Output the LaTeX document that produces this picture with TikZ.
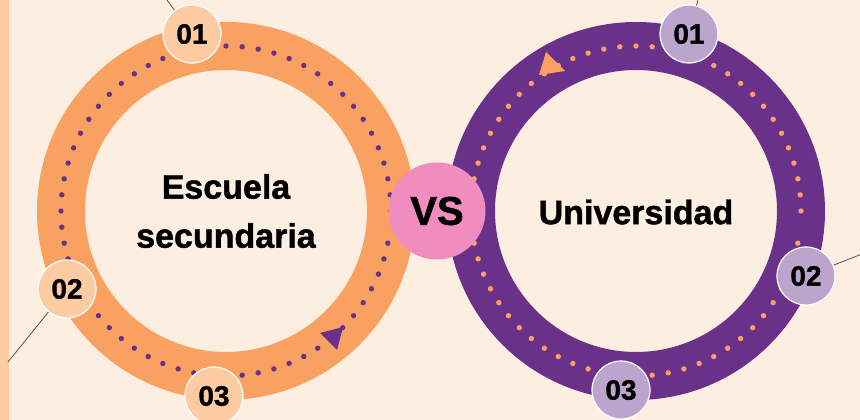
\documentclass[tikz,border=0pt]{standalone}
\usepackage{fontspec}
\setmainfont{Liberation Sans}
\newfontfamily\heavy{Liberation Sans}[BoldFeatures={FakeBold=1.3}]
\definecolor{bgc}{HTML}{FDEEE2}
\definecolor{peach}{HTML}{FDCBA1}
\definecolor{orng}{HTML}{F9A160}
\definecolor{purp}{HTML}{6A318A}
\definecolor{lav}{HTML}{BCA5CD}
\definecolor{pinkc}{HTML}{F18CBF}
\definecolor{linec}{HTML}{555555}
\begin{document}
\begin{tikzpicture}[x=1pt,y=-1pt,
  badge/.style={circle, draw=white, line width=1.2pt, minimum size=58pt, inner sep=0pt,
    font=\heavy\fontsize{28}{28}\selectfont\bfseries},
  obadge/.style={badge, fill=peach},
  pbadge/.style={badge, fill=lav},
  title/.style={align=center, font=\heavy\fontsize{34}{49}\selectfont\bfseries},
  leader/.style={draw=linec, line width=0.8pt}]
\useasboundingbox (0,0) rectangle (860,420);
\clip (0,0) rectangle (860,420);
\fill[bgc] (0,0) rectangle (860,420);
% left strip
\fill[peach] (0,0) rectangle (9,420);
% rings
\coordinate (lc) at (226,211);
\coordinate (rc) at (636,211);
\fill[orng, even odd rule] (lc) circle[radius=189pt] (lc) circle[radius=141pt];
\fill[purp, even odd rule] (rc) circle[radius=189pt] (rc) circle[radius=141pt];
% dots
\foreach \a in {0,5.625,...,354} {
  \fill[purp] (lc) ++(\a:165pt) circle[radius=2.7pt];
  \fill[orng] (rc) ++(\a:165pt) circle[radius=2.7pt];
}
% arrowheads
\fill[purp] (320,333) -- (343,327) -- (337,350) -- cycle;
\fill[orng] (546,52) -- (565,71) -- (539,75) -- cycle;
% leader end points
\coordinate (e1) at (164,-4);
\coordinate (e2) at (8,362);
\coordinate (e3) at (699,-4);
\coordinate (e4) at (862,254);
% badges
\node[obadge] (l1) at (192,34) {01};
\node[obadge] (l2) at (67,289) {02};
\node[obadge] (l3) at (214,396) {03};
\node[pbadge] (r1) at (689,34) {01};
\node[pbadge] (r2) at (806,276) {02};
\node[pbadge] (r3) at (621,390) {03};
\draw[leader] (l1) -- (e1);
\draw[leader] (l2) -- (e2);
\draw[leader] (r1) -- (e3);
\draw[leader] (r2) -- (e4);
% titles
\node[title] (t1) at (226,211) {Escuela\\secundaria};
\node[title] (t2) at (636,212) {Universidad};
% VS
\node[circle, fill=pinkc, minimum size=97pt, inner sep=0pt,
  font=\heavy\fontsize{40}{40}\selectfont\bfseries] (vs) at (437,211) {VS};
\end{tikzpicture}
\end{document}
